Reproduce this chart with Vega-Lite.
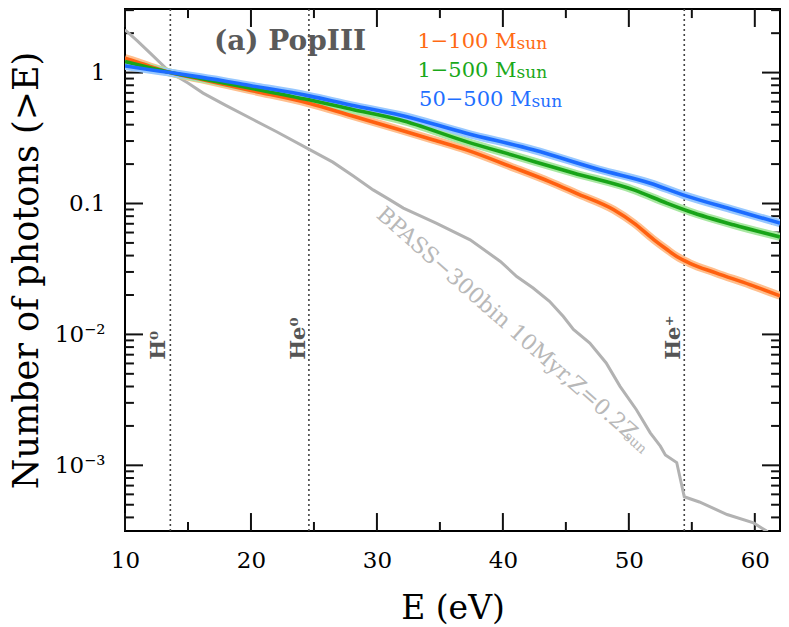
{
  "$schema": "https://vega.github.io/schema/vega-lite/v6.json",
  "width": 655,
  "height": 522,
  "autosize": {"type": "none"},
  "padding": {"left": 125, "top": 9, "right": 9, "bottom": 96},
  "background": "white",
  "config": {
    "view": {"stroke": "#000000", "strokeWidth": 2},
    "font": "DejaVu Serif",
    "axis": {"domain": false, "grid": false, "ticks": false, "tickSize": 0}
  },
  "datasets": {
    "curves": [
      {"s": "BPASS", "E": 10, "N": 2.12},
      {"s": "BPASS", "E": 11, "N": 1.74},
      {"s": "BPASS", "E": 12, "N": 1.41},
      {"s": "BPASS", "E": 13.6, "N": 1.0},
      {"s": "BPASS", "E": 15, "N": 0.832},
      {"s": "BPASS", "E": 16.2, "N": 0.697},
      {"s": "BPASS", "E": 18, "N": 0.562},
      {"s": "BPASS", "E": 20.2, "N": 0.436},
      {"s": "BPASS", "E": 22, "N": 0.355},
      {"s": "BPASS", "E": 24.7, "N": 0.257},
      {"s": "BPASS", "E": 26.5, "N": 0.207},
      {"s": "BPASS", "E": 28.1, "N": 0.163},
      {"s": "BPASS", "E": 29.7, "N": 0.127},
      {"s": "BPASS", "E": 31, "N": 0.107},
      {"s": "BPASS", "E": 32.1, "N": 0.0923},
      {"s": "BPASS", "E": 34.7, "N": 0.0708},
      {"s": "BPASS", "E": 37.4, "N": 0.0528},
      {"s": "BPASS", "E": 39.8, "N": 0.0361},
      {"s": "BPASS", "E": 41.1, "N": 0.0277},
      {"s": "BPASS", "E": 42.4, "N": 0.0226},
      {"s": "BPASS", "E": 43.7, "N": 0.0179},
      {"s": "BPASS", "E": 44.8, "N": 0.0137},
      {"s": "BPASS", "E": 45.6, "N": 0.0109},
      {"s": "BPASS", "E": 46.9, "N": 0.0086},
      {"s": "BPASS", "E": 48.2, "N": 0.00605},
      {"s": "BPASS", "E": 49.3, "N": 0.00401},
      {"s": "BPASS", "E": 50.6, "N": 0.00266},
      {"s": "BPASS", "E": 51.7, "N": 0.00177},
      {"s": "BPASS", "E": 52.5, "N": 0.0014},
      {"s": "BPASS", "E": 52.9, "N": 0.0012},
      {"s": "BPASS", "E": 53.8, "N": 0.00105},
      {"s": "BPASS", "E": 54.4, "N": 0.000575},
      {"s": "BPASS", "E": 55.6, "N": 0.000525},
      {"s": "BPASS", "E": 57.8, "N": 0.000421},
      {"s": "BPASS", "E": 59.9, "N": 0.000363},
      {"s": "BPASS", "E": 60.9, "N": 0.000316},
      {"s": "BPASS", "E": 61.5, "N": 0.000282},
      {"s": "BPASS", "E": 62, "N": 0.00025},
      {"s": "1-100", "E": 10, "N": 1.288},
      {"s": "1-100", "E": 11, "N": 1.202},
      {"s": "1-100", "E": 12, "N": 1.114},
      {"s": "1-100", "E": 13.6, "N": 1.0},
      {"s": "1-100", "E": 16, "N": 0.891},
      {"s": "1-100", "E": 20, "N": 0.731},
      {"s": "1-100", "E": 24.6, "N": 0.583},
      {"s": "1-100", "E": 28, "N": 0.468},
      {"s": "1-100", "E": 31.8, "N": 0.366},
      {"s": "1-100", "E": 34.5, "N": 0.306},
      {"s": "1-100", "E": 37.1, "N": 0.257},
      {"s": "1-100", "E": 40.6, "N": 0.192},
      {"s": "1-100", "E": 43.7, "N": 0.147},
      {"s": "1-100", "E": 45.8, "N": 0.12},
      {"s": "1-100", "E": 48.8, "N": 0.0895},
      {"s": "1-100", "E": 50.4, "N": 0.0708},
      {"s": "1-100", "E": 52, "N": 0.0528},
      {"s": "1-100", "E": 53, "N": 0.0447},
      {"s": "1-100", "E": 53.8, "N": 0.0394},
      {"s": "1-100", "E": 54.8, "N": 0.0351},
      {"s": "1-100", "E": 56.9, "N": 0.0295},
      {"s": "1-100", "E": 59.6, "N": 0.024},
      {"s": "1-100", "E": 62, "N": 0.0197},
      {"s": "1-500", "E": 10, "N": 1.213},
      {"s": "1-500", "E": 12, "N": 1.089},
      {"s": "1-500", "E": 13.6, "N": 1.0},
      {"s": "1-500", "E": 16, "N": 0.902},
      {"s": "1-500", "E": 20, "N": 0.759},
      {"s": "1-500", "E": 24.6, "N": 0.619},
      {"s": "1-500", "E": 28, "N": 0.525},
      {"s": "1-500", "E": 31.8, "N": 0.436},
      {"s": "1-500", "E": 37.1, "N": 0.297},
      {"s": "1-500", "E": 41.1, "N": 0.229},
      {"s": "1-500", "E": 45.6, "N": 0.171},
      {"s": "1-500", "E": 50.4, "N": 0.127},
      {"s": "1-500", "E": 53, "N": 0.1007},
      {"s": "1-500", "E": 54.8, "N": 0.0869},
      {"s": "1-500", "E": 58.3, "N": 0.0687},
      {"s": "1-500", "E": 62, "N": 0.0555},
      {"s": "50-500", "E": 10, "N": 1.125},
      {"s": "50-500", "E": 12, "N": 1.052},
      {"s": "50-500", "E": 13.6, "N": 1.0},
      {"s": "50-500", "E": 16, "N": 0.923},
      {"s": "50-500", "E": 20, "N": 0.794},
      {"s": "50-500", "E": 24.6, "N": 0.664},
      {"s": "50-500", "E": 28, "N": 0.562},
      {"s": "50-500", "E": 31.8, "N": 0.475},
      {"s": "50-500", "E": 37.1, "N": 0.344},
      {"s": "50-500", "E": 42.4, "N": 0.257},
      {"s": "50-500", "E": 47.7, "N": 0.181},
      {"s": "50-500", "E": 51.7, "N": 0.143},
      {"s": "50-500", "E": 54.3, "N": 0.1164},
      {"s": "50-500", "E": 58.3, "N": 0.0895},
      {"s": "50-500", "E": 62, "N": 0.0708}
    ],
    "xticks": [
      {"E": 10, "N": 0.000315, "N2": 0.000432}, {"E": 20, "N": 0.000315, "N2": 0.000432}, {"E": 30, "N": 0.000315, "N2": 0.000432},
      {"E": 40, "N": 0.000315, "N2": 0.000432}, {"E": 50, "N": 0.000315, "N2": 0.000432}, {"E": 60, "N": 0.000315, "N2": 0.000432},
      {"E": 10, "N": 3.06, "N2": 2.23}, {"E": 20, "N": 3.06, "N2": 2.23}, {"E": 30, "N": 3.06, "N2": 2.23},
      {"E": 40, "N": 3.06, "N2": 2.23}, {"E": 50, "N": 3.06, "N2": 2.23}, {"E": 60, "N": 3.06, "N2": 2.23},
      {"E": 15, "N": 0.000315, "N2": 0.000369}, {"E": 25, "N": 0.000315, "N2": 0.000369}, {"E": 35, "N": 0.000315, "N2": 0.000369},
      {"E": 45, "N": 0.000315, "N2": 0.000369}, {"E": 55, "N": 0.000315, "N2": 0.000369},
      {"E": 15, "N": 3.06, "N2": 2.61}, {"E": 25, "N": 3.06, "N2": 2.61}, {"E": 35, "N": 3.06, "N2": 2.61},
      {"E": 45, "N": 3.06, "N2": 2.61}, {"E": 55, "N": 3.06, "N2": 2.61}
    ],
    "yticks": [
      {"N": 1, "E": 10, "E2": 11.43}, {"N": 0.1, "E": 10, "E2": 11.43}, {"N": 0.01, "E": 10, "E2": 11.43}, {"N": 0.001, "E": 10, "E2": 11.43},
      {"N": 1, "E": 62, "E2": 60.57}, {"N": 0.1, "E": 62, "E2": 60.57}, {"N": 0.01, "E": 62, "E2": 60.57}, {"N": 0.001, "E": 62, "E2": 60.57},
      {"N": 0.0004, "E": 10, "E2": 10.71}, {"N": 0.0005, "E": 10, "E2": 10.71}, {"N": 0.0006, "E": 10, "E2": 10.71}, {"N": 0.0007, "E": 10, "E2": 10.71},
      {"N": 0.0008, "E": 10, "E2": 10.71}, {"N": 0.0009, "E": 10, "E2": 10.71}, {"N": 0.002, "E": 10, "E2": 10.71}, {"N": 0.003, "E": 10, "E2": 10.71},
      {"N": 0.004, "E": 10, "E2": 10.71}, {"N": 0.005, "E": 10, "E2": 10.71}, {"N": 0.006, "E": 10, "E2": 10.71}, {"N": 0.007, "E": 10, "E2": 10.71},
      {"N": 0.008, "E": 10, "E2": 10.71}, {"N": 0.009, "E": 10, "E2": 10.71}, {"N": 0.02, "E": 10, "E2": 10.71}, {"N": 0.03, "E": 10, "E2": 10.71},
      {"N": 0.04, "E": 10, "E2": 10.71}, {"N": 0.05, "E": 10, "E2": 10.71}, {"N": 0.06, "E": 10, "E2": 10.71}, {"N": 0.07, "E": 10, "E2": 10.71},
      {"N": 0.08, "E": 10, "E2": 10.71}, {"N": 0.09, "E": 10, "E2": 10.71}, {"N": 0.2, "E": 10, "E2": 10.71}, {"N": 0.3, "E": 10, "E2": 10.71},
      {"N": 0.4, "E": 10, "E2": 10.71}, {"N": 0.5, "E": 10, "E2": 10.71}, {"N": 0.6, "E": 10, "E2": 10.71}, {"N": 0.7, "E": 10, "E2": 10.71},
      {"N": 0.8, "E": 10, "E2": 10.71}, {"N": 0.9, "E": 10, "E2": 10.71}, {"N": 2, "E": 10, "E2": 10.71}, {"N": 3, "E": 10, "E2": 10.71},
      {"N": 0.0004, "E": 62, "E2": 61.29}, {"N": 0.0005, "E": 62, "E2": 61.29}, {"N": 0.0006, "E": 62, "E2": 61.29}, {"N": 0.0007, "E": 62, "E2": 61.29},
      {"N": 0.0008, "E": 62, "E2": 61.29}, {"N": 0.0009, "E": 62, "E2": 61.29}, {"N": 0.002, "E": 62, "E2": 61.29}, {"N": 0.003, "E": 62, "E2": 61.29},
      {"N": 0.004, "E": 62, "E2": 61.29}, {"N": 0.005, "E": 62, "E2": 61.29}, {"N": 0.006, "E": 62, "E2": 61.29}, {"N": 0.007, "E": 62, "E2": 61.29},
      {"N": 0.008, "E": 62, "E2": 61.29}, {"N": 0.009, "E": 62, "E2": 61.29}, {"N": 0.02, "E": 62, "E2": 61.29}, {"N": 0.03, "E": 62, "E2": 61.29},
      {"N": 0.04, "E": 62, "E2": 61.29}, {"N": 0.05, "E": 62, "E2": 61.29}, {"N": 0.06, "E": 62, "E2": 61.29}, {"N": 0.07, "E": 62, "E2": 61.29},
      {"N": 0.08, "E": 62, "E2": 61.29}, {"N": 0.09, "E": 62, "E2": 61.29}, {"N": 0.2, "E": 62, "E2": 61.29}, {"N": 0.3, "E": 62, "E2": 61.29},
      {"N": 0.4, "E": 62, "E2": 61.29}, {"N": 0.5, "E": 62, "E2": 61.29}, {"N": 0.6, "E": 62, "E2": 61.29}, {"N": 0.7, "E": 62, "E2": 61.29},
      {"N": 0.8, "E": 62, "E2": 61.29}, {"N": 0.9, "E": 62, "E2": 61.29}, {"N": 2, "E": 62, "E2": 61.29}, {"N": 3, "E": 62, "E2": 61.29}
    ]
  },
  "resolve": {
    "scale": {"color": "independent"},
    "axis": {"x": "independent", "y": "independent"}
  },
  "layer": [
    {
      "data": {"values": [{"E": 13.6}, {"E": 24.6}, {"E": 54.4}]},
      "mark": {"type": "rule", "strokeDash": [2, 3], "color": "#444444", "strokeWidth": 1.6},
      "encoding": {
        "x": {
          "field": "E", "type": "quantitative",
          "scale": {"domain": [10, 62], "nice": false, "zero": false},
          "axis": {
            "orient": "bottom", "values": [10, 20, 30, 40, 50, 60],
            "labelFont": "DejaVu Serif", "labelFontSize": 23, "labelColor": "black",
            "labelPadding": 18, "labelFlush": false, "labelOverlap": false,
            "title": "E (eV)", "titleFont": "DejaVu Serif", "titleFontSize": 33,
            "titleFontWeight": "normal", "titleColor": "black", "titlePadding": 20
          }
        }
      }
    },
    {
      "data": {"name": "xticks"},
      "mark": {"type": "rule", "color": "#111111", "strokeWidth": 2, "opacity": 1, "strokeCap": "butt"},
      "encoding": {
        "x": {"field": "E", "type": "quantitative", "scale": {"domain": [10, 62], "nice": false, "zero": false}, "axis": null},
        "y": {
          "field": "N", "type": "quantitative",
          "scale": {"type": "log", "domain": [0.000315, 3.06], "nice": false},
          "axis": {
            "orient": "left", "values": [1, 0.1, 0.01, 0.001],
            "labelExpr": "datum.value > 0.5 ? '1' : datum.value > 0.05 ? '0.1' : datum.value > 0.005 ? '10⁻²' : '10⁻³'",
            "labelFont": "DejaVu Serif", "labelFontSize": 23, "labelColor": "black",
            "labelPadding": 20, "labelOverlap": false, "labelFlush": false,
            "title": "Number of photons (>E)", "titleFont": "DejaVu Serif",
            "titleFontSize": 35, "titleFontWeight": "normal", "titleColor": "black",
            "titlePadding": 10
          }
        },
        "y2": {"field": "N2"}
      }
    },
    {
      "data": {"name": "yticks"},
      "mark": {"type": "rule", "color": "#111111", "strokeWidth": 2, "opacity": 1, "strokeCap": "butt"},
      "encoding": {
        "x": {"field": "E", "type": "quantitative", "scale": {"domain": [10, 62], "nice": false, "zero": false}, "axis": null},
        "x2": {"field": "E2"},
        "y": {"field": "N", "type": "quantitative", "scale": {"type": "log", "domain": [0.000315, 3.06], "nice": false}, "axis": null}
      }
    },
    {
      "data": {"name": "curves"},
      "transform": [{"filter": "datum.s == 'BPASS'"}],
      "mark": {"type": "line", "color": "#b2b2b2", "strokeWidth": 3, "clip": true},
      "encoding": {
        "x": {"field": "E", "type": "quantitative", "scale": {"domain": [10, 62], "nice": false, "zero": false}, "axis": null},
        "y": {"field": "N", "type": "quantitative", "scale": {"type": "log", "domain": [0.000315, 3.06], "nice": false}, "axis": null}
      }
    },
    {
      "data": {"name": "curves"},
      "transform": [{"filter": "datum.s != 'BPASS'"}],
      "mark": {"type": "line", "strokeWidth": 8, "interpolate": "monotone", "clip": true},
      "encoding": {
        "x": {"field": "E", "type": "quantitative", "scale": {"domain": [10, 62], "nice": false, "zero": false}, "axis": null},
        "y": {"field": "N", "type": "quantitative", "scale": {"type": "log", "domain": [0.000315, 3.06], "nice": false}, "axis": null},
        "color": {
          "field": "s", "type": "nominal", "legend": null,
          "scale": {"domain": ["1-100", "1-500", "50-500"], "range": ["#ffbf8e", "#a8e8a2", "#98c8ff"]}
        }
      }
    },
    {
      "data": {"name": "curves"},
      "transform": [{"filter": "datum.s != 'BPASS'"}],
      "mark": {"type": "line", "strokeWidth": 3.6, "interpolate": "monotone", "clip": true},
      "encoding": {
        "x": {"field": "E", "type": "quantitative", "scale": {"domain": [10, 62], "nice": false, "zero": false}, "axis": null},
        "y": {"field": "N", "type": "quantitative", "scale": {"type": "log", "domain": [0.000315, 3.06], "nice": false}, "axis": null},
        "color": {
          "field": "s", "type": "nominal", "legend": null,
          "scale": {"domain": ["1-100", "1-500", "50-500"], "range": ["#ff6010", "#18a418", "#1c6cff"]}
        }
      }
    },
    {
      "data": {"values": [
        {"E": 13.17, "N": 0.0064, "t": "H⁰"},
        {"E": 24.29, "N": 0.0064, "t": "He⁰"},
        {"E": 54.05, "N": 0.0064, "t": "He⁺"}
      ]},
      "mark": {"type": "text", "angle": 270, "align": "left", "baseline": "alphabetic",
               "font": "DejaVu Serif", "fontWeight": "bold", "fontSize": 21, "color": "#555555"},
      "encoding": {
        "x": {"field": "E", "type": "quantitative", "scale": {"domain": [10, 62], "nice": false, "zero": false}, "axis": null},
        "y": {"field": "N", "type": "quantitative", "scale": {"type": "log", "domain": [0.000315, 3.06], "nice": false}, "axis": null},
        "text": {"field": "t"}
      }
    },
    {
      "data": {"values": [
        {"E": 41.09, "N": 1.535, "s": "1-100", "t": "1−100 M"},
        {"E": 41.09, "N": 0.932, "s": "1-500", "t": "1−500 M"},
        {"E": 42.28, "N": 0.557, "s": "50-500", "t": "50−500 M"}
      ]},
      "mark": {"type": "text", "align": "right", "baseline": "alphabetic", "font": "DejaVu Serif", "fontSize": 21},
      "encoding": {
        "x": {"field": "E", "type": "quantitative", "scale": {"domain": [10, 62], "nice": false, "zero": false}, "axis": null},
        "y": {"field": "N", "type": "quantitative", "scale": {"type": "log", "domain": [0.000315, 3.06], "nice": false}, "axis": null},
        "text": {"field": "t"},
        "color": {
          "field": "s", "type": "nominal", "legend": null,
          "scale": {"domain": ["1-100", "1-500", "50-500"], "range": ["#ff6a14", "#1aa81a", "#1f6fff"]}
        }
      }
    },
    {
      "data": {"values": [
        {"E": 41.09, "N": 1.535, "s": "1-100", "t": "sun"},
        {"E": 41.09, "N": 0.932, "s": "1-500", "t": "sun"},
        {"E": 42.28, "N": 0.557, "s": "50-500", "t": "sun"}
      ]},
      "mark": {"type": "text", "align": "left", "baseline": "alphabetic", "font": "DejaVu Serif", "fontSize": 17, "dy": 1},
      "encoding": {
        "x": {"field": "E", "type": "quantitative", "scale": {"domain": [10, 62], "nice": false, "zero": false}, "axis": null},
        "y": {"field": "N", "type": "quantitative", "scale": {"type": "log", "domain": [0.000315, 3.06], "nice": false}, "axis": null},
        "text": {"field": "t"},
        "color": {
          "field": "s", "type": "nominal", "legend": null,
          "scale": {"domain": ["1-100", "1-500", "50-500"], "range": ["#ff6a14", "#1aa81a", "#1f6fff"]}
        }
      }
    },
    {
      "data": {"values": [{"E": 23.1, "N": 1.49, "t": "(a) PopIII"}]},
      "mark": {"type": "text", "align": "center", "baseline": "alphabetic", "font": "DejaVu Serif",
               "fontWeight": "bold", "fontSize": 28, "color": "#5a5a5a"},
      "encoding": {
        "x": {"field": "E", "type": "quantitative", "scale": {"domain": [10, 62], "nice": false, "zero": false}, "axis": null},
        "y": {"field": "N", "type": "quantitative", "scale": {"type": "log", "domain": [0.000315, 3.06], "nice": false}, "axis": null},
        "text": {"field": "t"}
      }
    },
    {
      "data": {"values": [{"E": 40.32, "N": 0.0121, "t": "BPASS−300bin 10Myr,Z=0.2Z"}]},
      "mark": {"type": "text", "align": "center", "baseline": "middle", "angle": 41.5,
               "font": "DejaVu Serif", "fontSize": 22, "color": "#b8b8b8"},
      "encoding": {
        "x": {"field": "E", "type": "quantitative", "scale": {"domain": [10, 62], "nice": false, "zero": false}, "axis": null},
        "y": {"field": "N", "type": "quantitative", "scale": {"type": "log", "domain": [0.000315, 3.06], "nice": false}, "axis": null},
        "text": {"field": "t"}
      }
    },
    {
      "data": {"values": [{"E": 50.48, "N": 0.00148, "t": "sun"}]},
      "mark": {"type": "text", "align": "center", "baseline": "middle", "angle": 41.5,
               "font": "DejaVu Serif", "fontSize": 14, "color": "#b8b8b8"},
      "encoding": {
        "x": {"field": "E", "type": "quantitative", "scale": {"domain": [10, 62], "nice": false, "zero": false}, "axis": null},
        "y": {"field": "N", "type": "quantitative", "scale": {"type": "log", "domain": [0.000315, 3.06], "nice": false}, "axis": null},
        "text": {"field": "t"}
      }
    }
  ]
}
